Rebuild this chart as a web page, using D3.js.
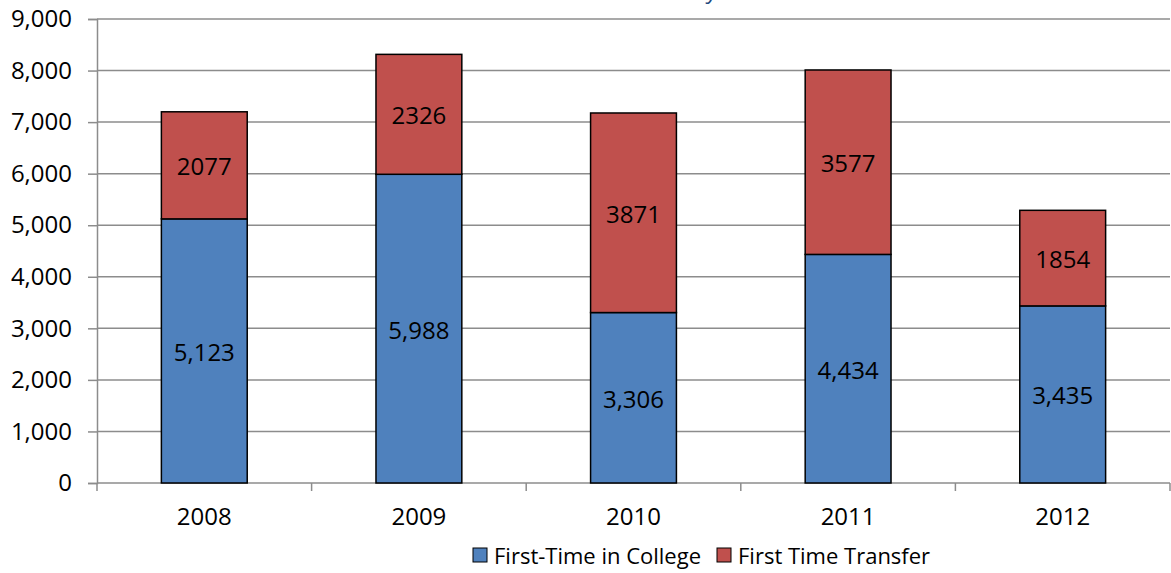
<!DOCTYPE html>
<html>
<head>
<meta charset="utf-8">
<script src="https://cdn.jsdelivr.net/npm/d3@7"></script>
<style>
  body { margin: 0; background: #fff; }
  text { font-family: "Open Sans", sans-serif; }
</style>
</head>
<body>
<div id="chart"></div>
<script>
var years = ["2008", "2009", "2010", "2011", "2012"];
var firstTime = [5123, 5988, 3306, 4434, 3435];
var transfer = [2077, 2326, 3871, 3577, 1854];
var yTicks = [0, 1000, 2000, 3000, 4000, 5000, 6000, 7000, 8000, 9000];
var seriesNames = ["First-Time in College", "First Time Transfer"];
var colors = ["#4F81BD", "#C0504D"];

function init() {
    var w = 1171;
    var h = 573;
    var left = 97, right = 1170, top = 19, bottom = 483;

    var svg = d3.select("#chart")
        .append("svg")
        .attr("width", w)
        .attr("height", h);

    var x = d3.scaleBand()
        .domain(years)
        .range([left, right])
        .paddingInner(0.6)
        .paddingOuter(0.3);

    var y = d3.scaleLinear()
        .domain([0, 9000])
        .range([bottom, top]);

    // cut-off title fragment at the top edge
    svg.append("text")
        .attr("x", 718)
        .attr("y", -1)
        .attr("text-anchor", "end")
        .attr("font-style", "italic")
        .attr("font-size", 22)
        .attr("fill", "#1F497D")
        .text("y");

    // gridlines
    svg.selectAll("line.grid")
        .data(yTicks.filter(function (d) { return d > 0; }))
        .enter()
        .append("line")
        .attr("class", "grid")
        .attr("x1", left)
        .attr("x2", right)
        .attr("y1", function (d) { return y(d); })
        .attr("y2", function (d) { return y(d); })
        .attr("stroke", "#8c8c8c")
        .attr("stroke-width", 1.5);

    // y axis
    var yAxis = svg.append("g")
        .attr("transform", "translate(" + left + ",0)")
        .call(d3.axisLeft(y).tickValues(yTicks).tickSize(9).tickPadding(16)
            .tickFormat(d3.format(",")));
    yAxis.selectAll("text").attr("font-size", 24).attr("fill", "#000")
        .style("font-family", "'Open Sans', sans-serif");
    yAxis.selectAll("line, path").attr("stroke", "#8c8c8c").attr("stroke-width", 1.5);

    // x axis with boundary ticks
    var xg = svg.append("g");
    xg.append("line")
        .attr("x1", left).attr("x2", right)
        .attr("y1", bottom).attr("y2", bottom)
        .attr("stroke", "#8c8c8c").attr("stroke-width", 1.5);
    var bounds = years.map(function (d) { return x(d) - x.step() * x.paddingInner() / 2; });
    bounds.push(right);
    xg.selectAll("line.tick")
        .data(bounds)
        .enter()
        .append("line")
        .attr("x1", function (d) { return d; })
        .attr("x2", function (d) { return d; })
        .attr("y1", bottom)
        .attr("y2", bottom + 8)
        .attr("stroke", "#8c8c8c").attr("stroke-width", 1.5);
    xg.selectAll("text")
        .data(years)
        .enter()
        .append("text")
        .attr("x", function (d) { return x(d) + x.bandwidth() / 2; })
        .attr("y", 525)
        .attr("text-anchor", "middle")
        .attr("font-size", 24)
        .text(function (d) { return d; });

    // stacked bars
    var rows = years.map(function (d, i) {
        return { year: d, a: firstTime[i], b: transfer[i] };
    });
    var stack = d3.stack().keys(["a", "b"])(rows);

    var groups = svg.selectAll("g.series")
        .data(stack)
        .enter()
        .append("g")
        .attr("fill", function (d, i) { return colors[i]; });

    groups.selectAll("rect")
        .data(function (d) { return d; })
        .enter()
        .append("rect")
        .attr("x", function (d) { return x(d.data.year); })
        .attr("y", function (d) { return y(d[1]); })
        .attr("width", x.bandwidth())
        .attr("height", function (d) { return y(d[0]) - y(d[1]); })
        .attr("stroke", "#000")
        .attr("stroke-width", 1.5);

    groups.each(function (s, si) {
        d3.select(this).selectAll("text")
            .data(s)
            .enter()
            .append("text")
            .attr("x", function (d) { return x(d.data.year) + x.bandwidth() / 2; })
            .attr("y", function (d) { return (y(d[0]) + y(d[1])) / 2 + 10; })
            .attr("text-anchor", "middle")
            .attr("font-size", 24)
            .attr("fill", "#000")
            .text(function (d) {
                var v = d[1] - d[0];
                return si === 0 ? d3.format(",")(v) : String(v);
            });
    });

    // legend
    var legendX = [473, 717];
    var lg = svg.selectAll("g.legend")
        .data(seriesNames)
        .enter()
        .append("g")
        .attr("transform", function (d, i) { return "translate(" + legendX[i] + ",548)"; });
    lg.append("rect")
        .attr("width", 14)
        .attr("height", 14)
        .attr("fill", function (d, i) { return colors[i]; })
        .attr("stroke", "#000")
        .attr("stroke-width", 1);
    lg.append("text")
        .attr("x", 21)
        .attr("y", 16)
        .attr("font-size", 22)
        .text(function (d) { return d; });
}
window.onload = init;
</script>
</body>
</html>
